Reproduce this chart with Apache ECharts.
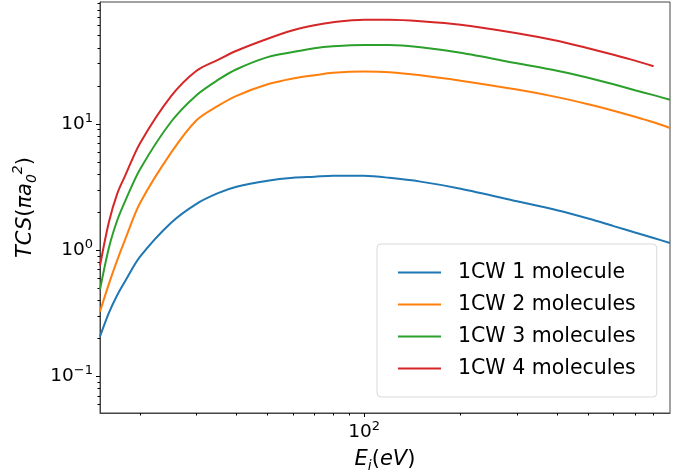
<!DOCTYPE html>
<html><head><meta charset="utf-8">
<script src="https://cdn.jsdelivr.net/npm/echarts@6/dist/echarts.min.js"></script>
<style>html,body{margin:0;padding:0;background:#fff}#c{width:681px;height:475px}</style>
</head><body><div id="c"></div>
<script>
const energies    = [15, 16, 17, 18, 20, 25, 30, 35, 40, 50, 60, 70, 80, 100, 120, 150, 200, 300, 400, 500, 600, 700, 800, 900];
const energiesRed = [15, 16, 17, 18, 20, 25, 30, 35, 40, 50, 60, 70, 80, 100, 120, 150, 200, 300, 400, 500, 600, 700, 800];
const seriesNames = ['1CW 1 molecule', '1CW 2 molecules', '1CW 3 molecules', '1CW 4 molecules'];
const tcs1 = [0.207, 0.320, 0.444, 0.573, 0.888, 1.65, 2.33, 2.83, 3.18, 3.55, 3.75, 3.82, 3.89, 3.88, 3.74, 3.49, 3.07, 2.44, 2.07, 1.78, 1.55, 1.38, 1.25, 1.14];
const tcs2 = [0.326, 0.543, 0.841, 1.23, 2.36, 5.92, 10.7, 13.9, 16.7, 20.6, 22.9, 24.3, 25.4, 26.0, 25.7, 24.3, 22.0, 18.7, 16.3, 14.3, 12.7, 11.4, 10.3, 9.28];
const tcs3 = [0.487, 1.05, 1.74, 2.47, 4.38, 10.4, 16.9, 22.3, 27.1, 33.8, 37.1, 39.8, 41.2, 42.2, 42.2, 40.5, 36.6, 30.2, 26.4, 23.2, 20.6, 18.5, 16.9, 15.55];
const tcs4 = [0.754, 1.68, 2.83, 3.93, 7.04, 16.6, 26.4, 32.2, 38.0, 47.3, 55.2, 60.5, 63.9, 66.8, 66.8, 65.0, 61.0, 52.3, 45.6, 39.8, 35.3, 31.7, 28.6];
const colors = ['#1f77b4', '#ff7f0e', '#2ca02c', '#d62728'];
const xMajorTicks = [100];
const xMinorTicks = [20, 30, 40, 50, 60, 70, 80, 90, 200, 300, 400, 500, 600, 700, 800];
const yMajorTicks = [0.1, 1, 10];
const yMinorTicks = [0.06, 0.07, 0.08, 0.09, 0.2, 0.3, 0.4, 0.5, 0.6, 0.7, 0.8, 0.9, 2, 3, 4, 5, 6, 7, 8, 9, 20, 30, 40, 50, 60, 70, 80, 90];
const xRange = [15, 900];
const yRange = [0.0513, 92.4];

const FONT = 'DejaVu Sans';
function powLabel(v) {
  const e = Math.round(Math.log10(v));
  return '10{sup|' + (e < 0 ? '\u2212' + (-e) : e) + '}';
}
const tickRich = {
  sup: { fontSize: 13, lineHeight: 13, verticalAlign: 'top', color: '#000', fontFamily: FONT }
};
const nameRich = {
  it: { fontSize: 21, lineHeight: 28, fontStyle: 'italic', color: '#000', fontFamily: FONT },
  up: { fontSize: 21, lineHeight: 28, color: '#000', fontFamily: FONT },
  sub: { fontSize: 14, lineHeight: 14, verticalAlign: 'bottom', fontStyle: 'italic', color: '#000', fontFamily: FONT },
  sup: { fontSize: 14, lineHeight: 14, verticalAlign: 'top', fontStyle: 'italic', color: '#000', fontFamily: FONT }
};

const dataSets = [tcs1, tcs2, tcs3, tcs4];
const series = dataSets.map((vals, i) => {
  const xs = i === 3 ? energiesRed : energies;
  return {
    name: seriesNames[i], type: 'line', xAxisIndex: 0, yAxisIndex: 0,
    data: xs.map((x, j) => [x, vals[j]]),
    symbol: 'none', showSymbol: false, smooth: 0.3,
    lineStyle: { color: colors[i], width: 2 }, itemStyle: { color: colors[i] },
    clip: true, animation: false
  };
});

const chart = echarts.init(document.getElementById('c'), null, { renderer: 'canvas' });
chart.setOption({
  animation: false,
  backgroundColor: '#fff',
  grid: { left: 100, right: 11, top: 2, bottom: 62, show: true, borderColor: '#444', borderWidth: 1, containLabel: false, outerBoundsMode: 'none' },
  legend: {
    data: seriesNames, orient: 'vertical', left: 377, top: 244,
    itemWidth: 43, itemHeight: 21, itemGap: 11,
    padding: [18, 21, 18, 20],
    itemStyle: { opacity: 0 },
    backgroundColor: '#fff', borderColor: '#d9d9d9', borderWidth: 1, borderRadius: 4,
    textStyle: { fontSize: 20.5, fontFamily: FONT, color: '#000', padding: [0, 0, 0, 12] }
  },
  xAxis: [
    {
      type: 'log', min: xRange[0], max: xRange[1], position: 'bottom',
      name: '{it|E}{sub|i}{up|(}{it|eV}{up|)}', nameLocation: 'middle', nameGap: 30,
      nameTextStyle: { rich: nameRich },
      axisLine: { show: true, onZero: false, lineStyle: { color: '#444', width: 1 } },
      axisTick: { show: true, length: 4, customValues: xMajorTicks, lineStyle: { color: '#000' } },
      axisLabel: { customValues: xMajorTicks, formatter: powLabel, margin: 7, fontSize: 18.5, fontFamily: FONT, color: '#000', lineHeight: 24, rich: tickRich },
      splitLine: { show: false }, minorTick: { show: false }
    },
    {
      type: 'log', min: xRange[0], max: xRange[1], position: 'bottom',
      axisLine: { show: false, onZero: false },
      axisTick: { show: true, length: 2.5, customValues: xMinorTicks, lineStyle: { color: '#000' } },
      axisLabel: { show: false }, splitLine: { show: false }
    }
  ],
  yAxis: [
    {
      type: 'log', min: yRange[0], max: yRange[1], position: 'left',
      name: '{it|TCS}{up|(}{it|\u03c0a}{sub|0}{sup|2}{up|)}', nameLocation: 'middle', nameGap: 56, nameRotate: 90,
      nameTextStyle: { rich: nameRich },
      axisLine: { show: true, onZero: false, lineStyle: { color: '#444', width: 1 } },
      axisTick: { show: true, length: 4, customValues: yMajorTicks, lineStyle: { color: '#000' } },
      axisLabel: { customValues: yMajorTicks, formatter: powLabel, margin: 7, fontSize: 18.5, fontFamily: FONT, color: '#000', lineHeight: 24, rich: tickRich },
      splitLine: { show: false }
    },
    {
      type: 'log', min: yRange[0], max: yRange[1], position: 'left',
      axisLine: { show: false, onZero: false },
      axisTick: { show: true, length: 2.5, customValues: yMinorTicks, lineStyle: { color: '#000' } },
      axisLabel: { show: false }, splitLine: { show: false }
    }
  ],
  series: series
});
</script>
</body></html>
